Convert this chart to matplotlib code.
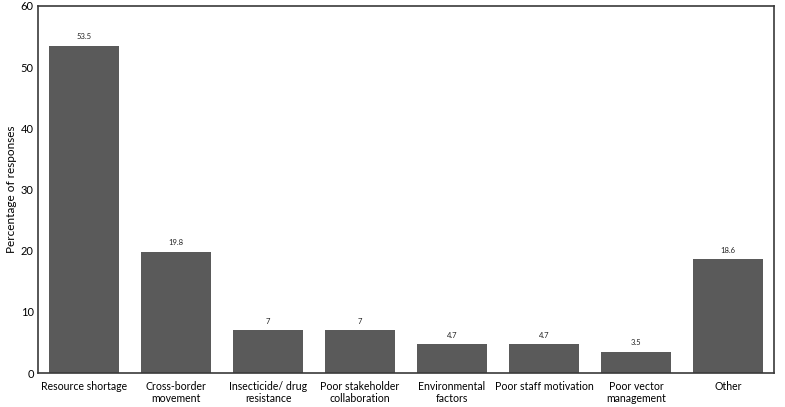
import numpy as np
import matplotlib.pyplot as plt

categories = ['Resource shortage', 'Cross-border\nmovement', 'Insecticide/ drug\nresistance',
              'Poor stakeholder\ncollaboration', 'Environmental\nfactors', 'Poor staff motivation',
              'Poor vector\nmanagement', 'Other']
values = [53.5, 19.8, 7, 7, 4.7, 4.7, 3.5, 18.6]
value_labels = ['53.5', '19.8', '7', '7', '4.7', '4.7', '3.5', '18.6']
yticks = [0, 10, 20, 30, 40, 50, 60]

plt.rcParams['font.family'] = ['Lato', 'DejaVu Sans']

fig = plt.figure(figsize=(7.85, 4.07), dpi=100)
ax = fig.add_axes([38/785, 1 - 373/407, 736/785, 367/407])

x = np.arange(len(categories))
ax.bar(x, values, width=0.77, color='#5a5a5a', edgecolor='none')
for xi, v, lab in zip(x, values, value_labels):
    ax.text(xi, v + 0.9, lab, ha='center', va='bottom', fontsize=5.5, color='#222222')

ax.set_xlim(-0.5, len(categories) - 0.5)
ax.set_ylim(0, 60)
ax.set_yticks(yticks)
ax.set_xticks(x)
ax.set_xticklabels(categories, fontsize=7.6, linespacing=1.05)
ax.tick_params(axis='y', length=0, pad=3, labelsize=8)
ax.tick_params(axis='x', length=0, pad=6)
ax.set_ylabel('Percentage of responses', fontsize=8.5, labelpad=3)

for s in ax.spines.values():
    s.set_color('#3a3a3a')
    s.set_linewidth(1.2)

fig.savefig('out.png', dpi=100)
